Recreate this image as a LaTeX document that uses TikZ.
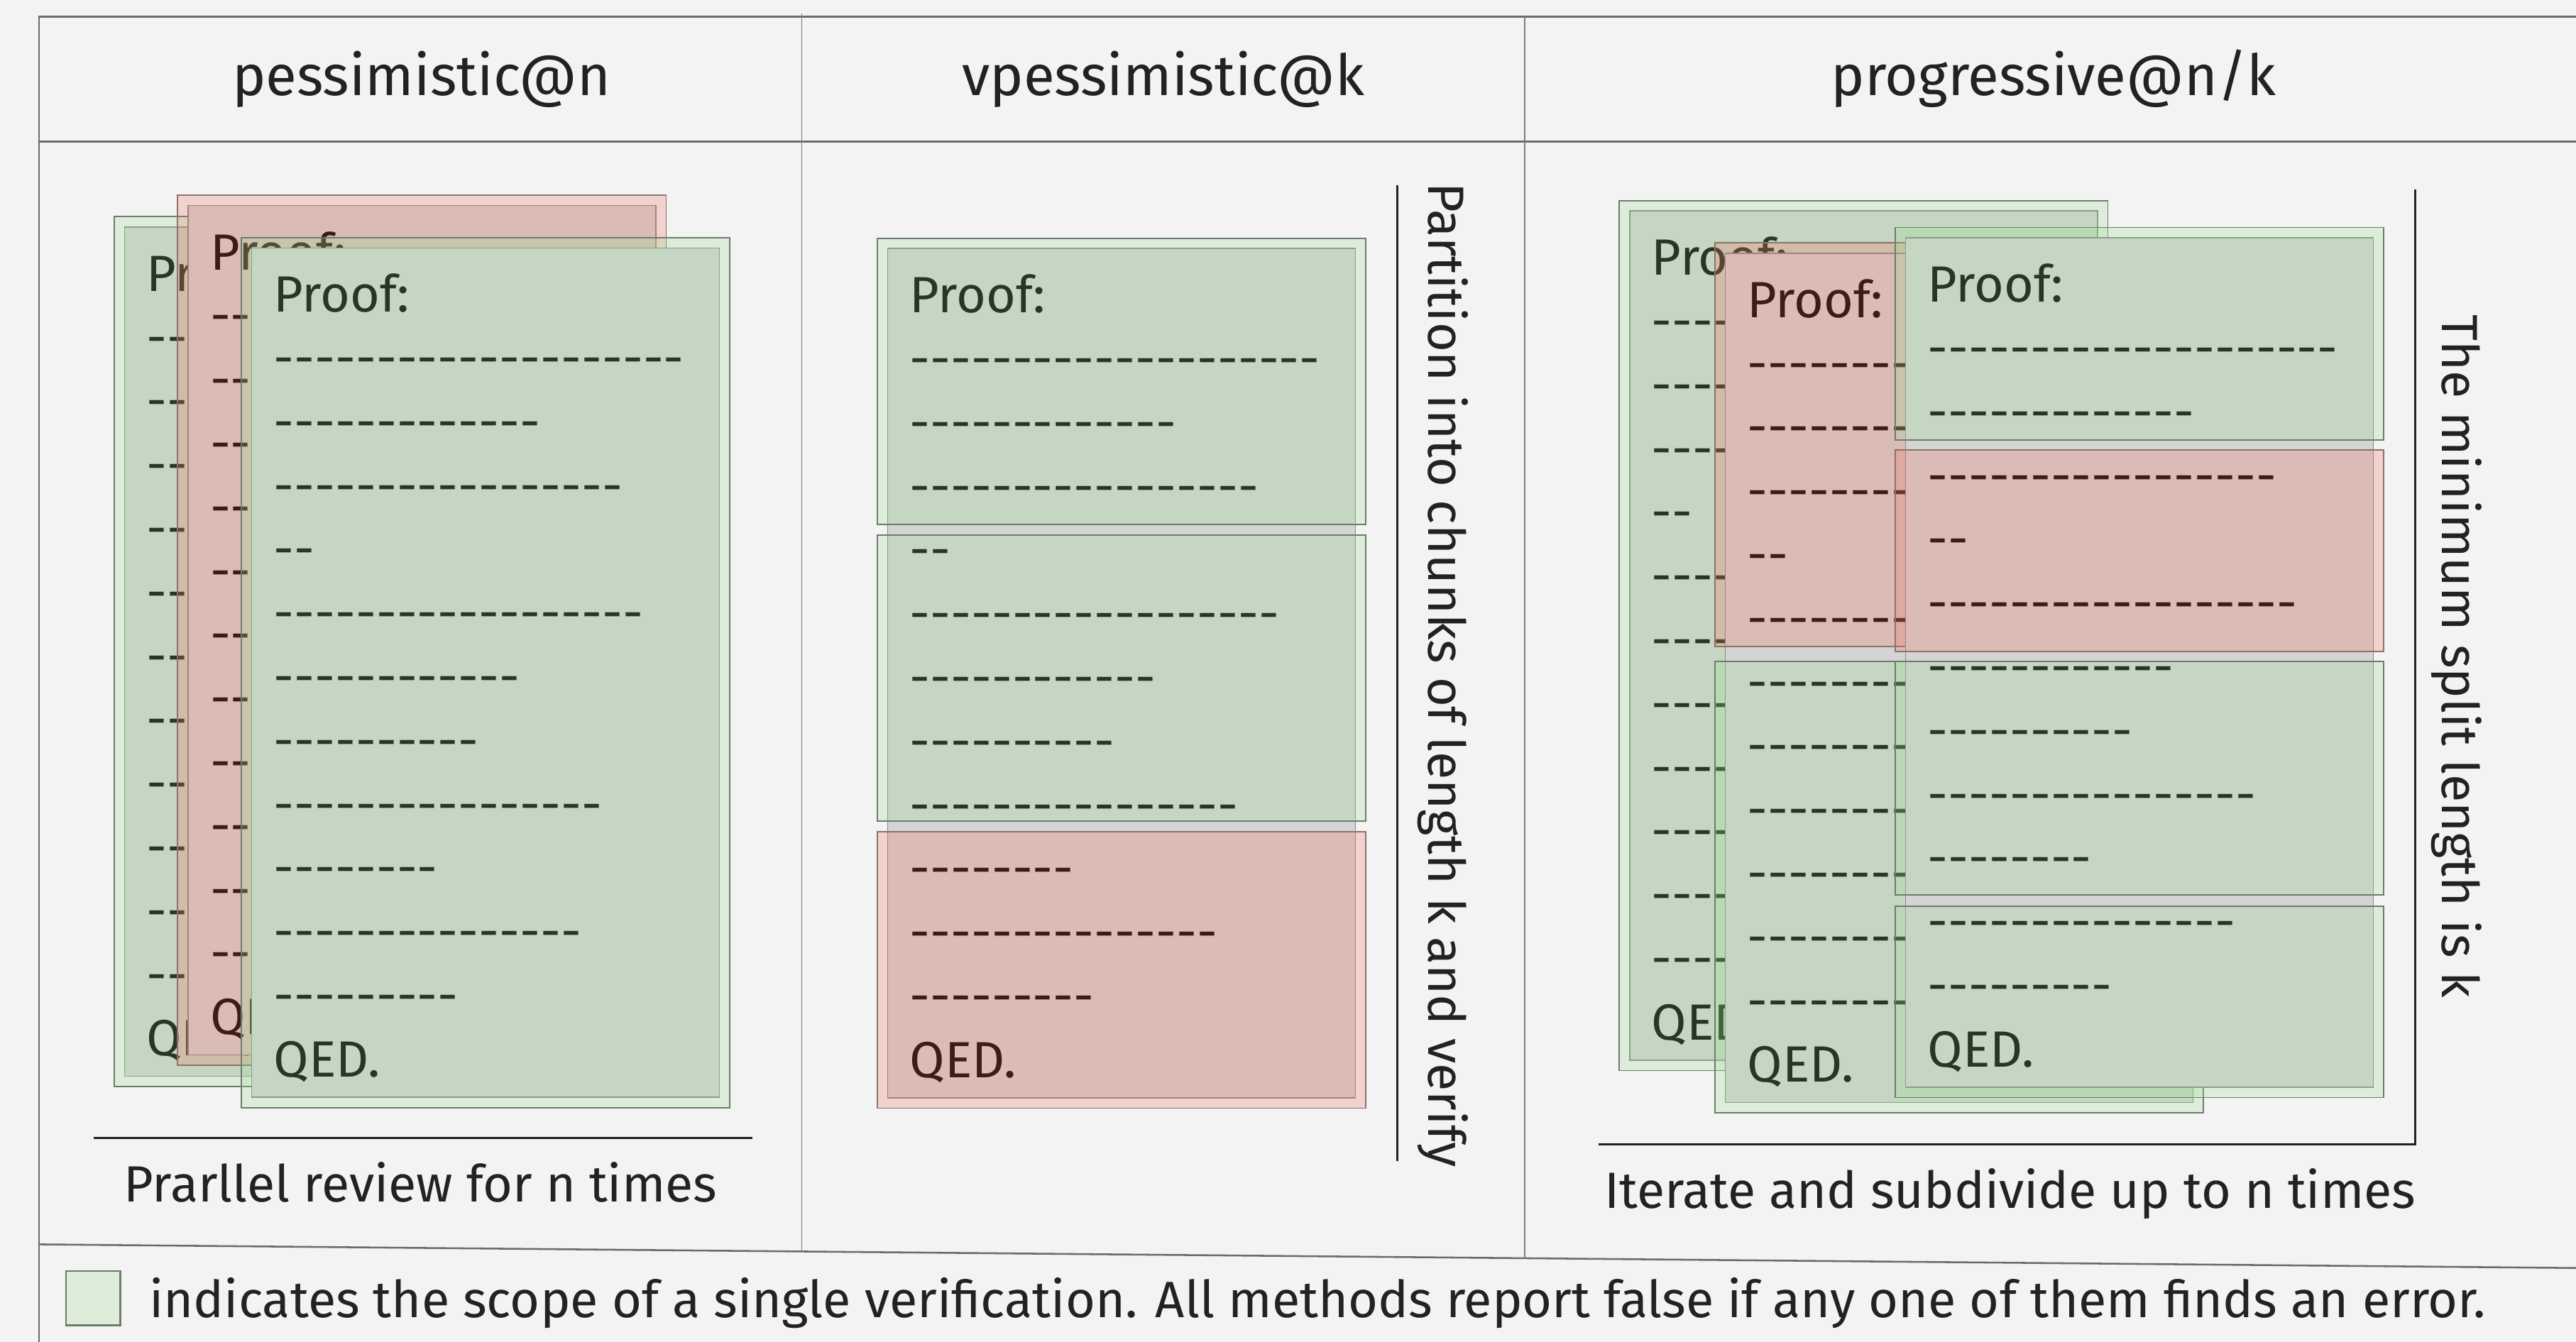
\documentclass[tikz,border=0pt]{standalone}
\usepackage{fontspec}
\setmainfont{Fira Sans}
\definecolor{bgc}{HTML}{F3F3F3}
\definecolor{innerc}{HTML}{D4D4D4}
\definecolor{innerl}{HTML}{888888}
\definecolor{gtint}{RGB}{155,223,147}
\definecolor{rtint}{RGB}{239,115,95}
\definecolor{framec}{HTML}{6B6B6B}
\definecolor{gedge}{HTML}{6E7B6C}
\definecolor{redge}{HTML}{8C716C}
\definecolor{ink}{HTML}{222222}
\definecolor{legendfill}{HTML}{DDEDDA}
\newcount\dcnt
\newcommand\hy[1]{\dcnt=#1\relax\loop\ifnum\dcnt>0 -\kern0pt\advance\dcnt by -1\relax\repeat}
\tikzset{
  frameline/.style={draw=framec, line width=1.1},
  divline/.style={draw=framec!90, line width=0.8},
  annline/.style={draw=ink, line width=1.5},
  innerbox/.style={fill=innerc, draw=innerl, line width=0.6},
  cardtext/.style={anchor=base west, inner sep=0, text=black, font=\fontsize{31}{31}\selectfont},
  gchunk/.style={fill=gtint, fill opacity=.25, draw=gedge, line width=0.8},
  rchunk/.style={fill=rtint, fill opacity=.25, draw=redge, line width=0.8},
  headtext/.style={anchor=base, inner sep=0, text=ink, font=\fontsize{34.6}{34.6}\selectfont},
  labtext/.style={anchor=base, inner sep=0, text=ink, font=\fontsize{31}{31}\selectfont},
}
\newcommand\cardbody[3]{%
  \path[innerbox] (#1+6.3,#2+6.3) rectangle (#1+291,#2+523.4);
  \foreach \t [count=\i from 0] in {Proof:,\hy{20},\hy{13},\hy{17},\hy{2},\hy{18},\hy{12},\hy{10},\hy{16},\hy{8},\hy{15},\hy{9},QED.}{%
    \node[cardtext] (#3-\i) at (#1+19.5,#2+45.4+\i*38.8) {\t};
  }%
}
\newcommand\gtintbox[3]{\path[gchunk] (#1,#2) rectangle (#1+297.3,#3);}
\newcommand\rtintbox[3]{\path[rchunk] (#1,#2) rectangle (#1+297.3,#3);}
\begin{document}
\begin{tikzpicture}[x=1pt,y=-1pt]
\useasboundingbox (0,0) rectangle (1568,817);
\fill[bgc] (0,0) rectangle (1568,817);
% frame
\draw[frameline] (1568,10.1) -- (23.8,10.1) -- (23.8,817);
\draw[frameline] (23.8,86.1) -- (1568,86.1);
\draw[frameline] (23.8,757.6) -- (1568,772);
\draw[divline] (488,8) -- (488,761.9);
\draw[divline] (928,10.1) -- (928,766);
% headers
\node[headtext] (h1) at (256.5,57.9) {pessimistic@n};
\node[headtext] (h2) at (708,57.9) {vpessimistic@k};
\node[headtext] (h3) at (1250,57.9) {progressive@n/k};
% column 1
\cardbody{69.4}{131.9}{A}
\gtintbox{69.4}{131.9}{661.6}
\cardbody{108.2}{118.8}{B}
\rtintbox{108.2}{118.8}{648.5}
\cardbody{146.9}{144.6}{C}
\gtintbox{146.9}{144.6}{674.3}
\coordinate (l1a) at (57,692.8);
\coordinate (l1b) at (458,692.8);
\draw[annline] (l1a) -- (l1b);
\node[labtext] (lab1) at (256,731.6) {Prarllel review for n times};
% column 2
\cardbody{534}{145}{V}
\gtintbox{534}{145}{319.3}
\gtintbox{534}{325.6}{500}
\rtintbox{534}{506.5}{674.7}
\coordinate (l2a) at (850.5,112.7);
\coordinate (l2b) at (850.5,707);
\draw[annline] (l2a) -- (l2b);
\node[labtext, rotate=-90] (lab2) at (869.5,411) {Partition into chunks of length k and verify};
% column 3
\cardbody{985.7}{122.1}{P}
\gtintbox{985.7}{122.1}{651.8}
\cardbody{1043.9}{147.9}{Q}
\rtintbox{1043.9}{147.9}{393.5}
\gtintbox{1043.9}{402.7}{677.6}
\cardbody{1153.6}{138.5}{R}
\gtintbox{1153.6}{138.5}{267.7}
\rtintbox{1153.6}{273.9}{396.8}
\gtintbox{1153.6}{402.7}{545}
\gtintbox{1153.6}{551.7}{668.2}
\coordinate (l3a) at (973,696.6);
\coordinate (l3b) at (1470.2,696.6);
\coordinate (l3c) at (1470.2,115.5);
\draw[annline] (l3a) -- (l3b) -- (l3c);
\node[labtext] (lab3) at (1223.5,735.7) {Iterate and subdivide up to n times};
\node[labtext, rotate=-90] (lab4) at (1486.7,399.5) {The minimum split length is k};
% legend
\path[fill=legendfill, draw=gedge, line width=1.2] (40.2,773.8) rectangle (73.3,806.9);
\node[anchor=base west, inner sep=0, text=ink, font=\fontsize{31.1}{31.1}\selectfont] (leg) at (90.7,802.2) {indicates the scope of a single verification. All methods report false if any one of them finds an error.};
\end{tikzpicture}
\end{document}
